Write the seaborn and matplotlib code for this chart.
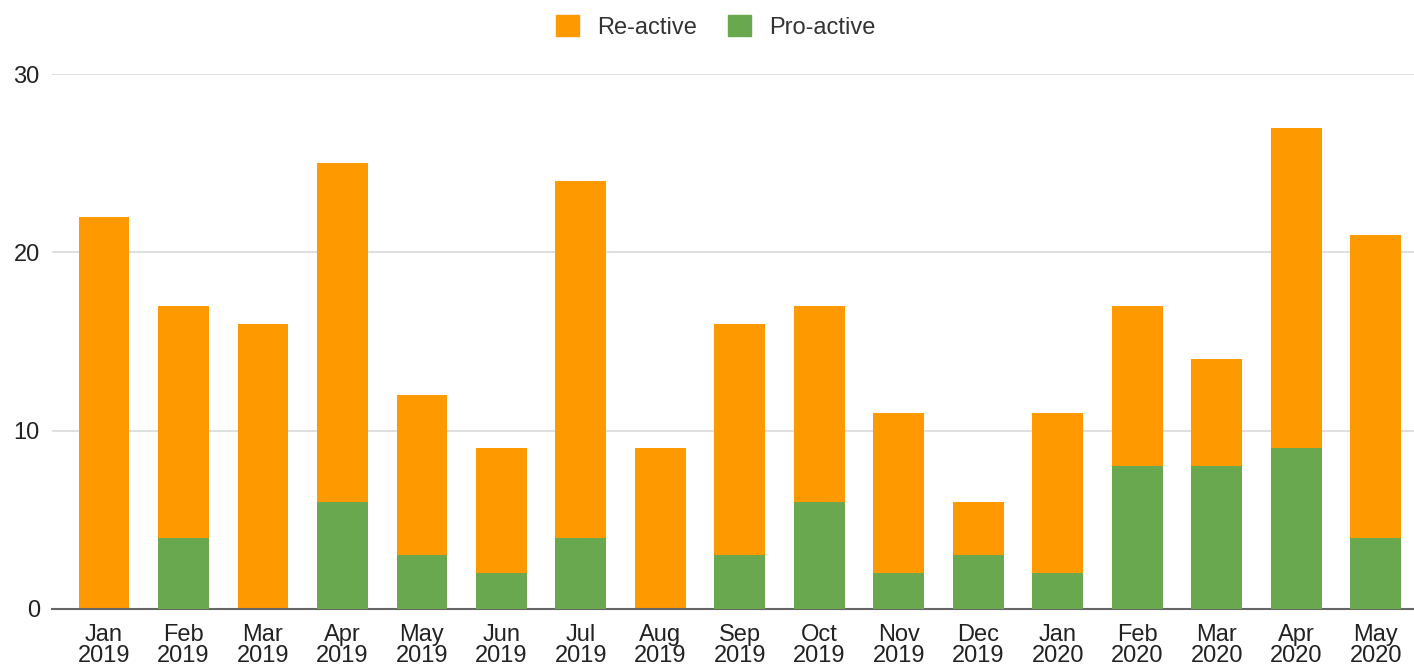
import matplotlib
matplotlib.use("Agg")
import matplotlib.pyplot as plt
import seaborn as sns
import pandas as pd
from matplotlib.patches import Patch

# monthly counts
months = ["Jan\n2019", "Feb\n2019", "Mar\n2019", "Apr\n2019", "May\n2019", "Jun\n2019",
          "Jul\n2019", "Aug\n2019", "Sep\n2019", "Oct\n2019", "Nov\n2019", "Dec\n2019",
          "Jan\n2020", "Feb\n2020", "Mar\n2020", "Apr\n2020", "May\n2020"]
proactive = [0, 4, 0, 6, 3, 2, 4, 0, 3, 6, 2, 3, 2, 8, 8, 9, 4]
reactive = [22, 13, 16, 19, 9, 7, 20, 9, 13, 11, 9, 3, 9, 9, 6, 18, 17]

df = pd.DataFrame({"month": months, "pro": proactive, "re": reactive})
df["total"] = df["pro"] + df["re"]

orange = "#FF9900"
green = "#6AA84F"

sns.set_style("white")
plt.rcParams["font.family"] = ["Liberation Sans", "DejaVu Sans"]

fig = plt.figure(figsize=(14.14, 6.67), dpi=100)
ax = fig.add_axes([0.037, 0.087, 0.963, 0.802])

# stacked: draw totals in orange, then the pro-active part over it in green
sns.barplot(data=df, x="month", y="total", color=orange, width=0.64,
            saturation=1, linewidth=0, ax=ax, zorder=2)
sns.barplot(data=df, x="month", y="pro", color=green, width=0.64,
            saturation=1, linewidth=0, ax=ax, zorder=3)

ax.set_ylim(0, 30)
ax.set_xlim(-0.65, 16.48)
ax.set_yticks([0, 10, 20, 30])
ax.yaxis.grid(True, color="#d9d9d9", linewidth=1.2)
ax.set_axisbelow(True)
ax.set_xlabel("")
ax.set_ylabel("")
for s in ["top", "right", "left"]:
    ax.spines[s].set_visible(False)
ax.spines["bottom"].set_color("#666666")
ax.spines["bottom"].set_linewidth(1.5)
ax.tick_params(axis="both", length=0, labelsize=17, labelcolor="#222222")
ax.tick_params(axis="x", pad=11)
ax.tick_params(axis="y", pad=9)
for lab in ax.get_xticklabels():
    lab.set_linespacing(0.93)

handles = [Patch(color=orange, label="Re-active"), Patch(color=green, label="Pro-active")]
fig.legend(handles=handles, loc="upper center", bbox_to_anchor=(0.506, 1.0), ncol=2,
           frameon=False, fontsize=17, handlelength=1.0, handleheight=1.0,
           columnspacing=1.3, handletextpad=0.75, labelcolor="#333333",
           borderaxespad=0.25)

fig.savefig("out.png", dpi=100)
